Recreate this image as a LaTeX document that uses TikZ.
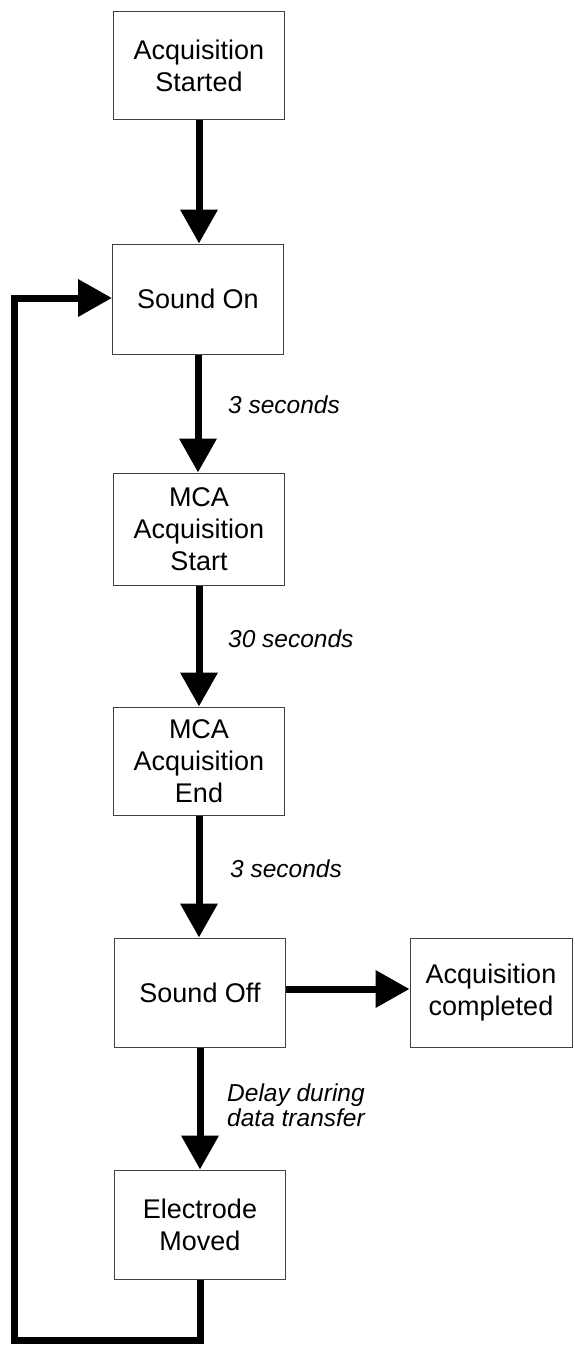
\documentclass[tikz,border=0pt]{standalone}
\usepackage{fontspec}
\setmainfont{Liberation Sans}
\usetikzlibrary{arrows.meta}
\begin{document}
\begin{tikzpicture}[x=1pt,y=-1pt,
  stepbox/.style={draw=black!75,line width=1pt,fill=white,minimum width=171pt,minimum height=108pt,
    align=center,font=\fontsize{27}{32}\selectfont,inner sep=0pt},
  flow/.style={line width=7pt,-{Triangle[length=34pt,width=36pt]}},
  plain/.style={line width=7pt},
  note/.style={anchor=base west,inner sep=0pt,font=\fontsize{24.5}{25}\selectfont\itshape,align=left}]
\useasboundingbox (0,0) rectangle (575,1346);
\node[stepbox] (start) at (199,65.5) {Acquisition\\Started};
\node[stepbox,minimum height=110pt] (on) at (198,299) {Sound On};
\node[stepbox,minimum height=112pt] (mcas) at (199,529) {MCA\\Acquisition\\Start};
\node[stepbox] (mcae) at (199,761) {MCA\\Acquisition\\End};
\node[stepbox,minimum height=109pt] (off) at (200,992.5) {Sound Off};
\node[stepbox,minimum width=162pt,minimum height=109pt] (done) at (491,992.5) {Acquisition\\completed};
\node[stepbox,minimum height=109pt] (move) at (200,1224.5) {Electrode\\Moved};
\coordinate (lb) at (14,1340);
\coordinate (lt) at (14,298);

\draw[flow] (start.south) -- (start.south |- on.north);
\draw[flow] (on.south) -- (on.south |- mcas.north);
\draw[flow] (mcas.south) -- (mcas.south |- mcae.north);
\draw[flow] (mcae.south) -- (mcae.south |- off.north);
\draw[flow] (off.east |- 0,989) -- (done.west |- 0,989);
\draw[flow] (off.south) -- (off.south |- move.north);
\draw[flow] (move.south) -- (move.south |- lb) -- (lb) -- (lt) -- (on.west |- lt);

\node[note] (n1) at (228,413) {3 seconds};
\node[note] (n2) at (228,647) {30 seconds};
\node[note] (n3) at (230,877) {3 seconds};
\node[note,anchor=north west] (n4) at (227,1084) {Delay during\\data transfer};
\end{tikzpicture}
\end{document}
